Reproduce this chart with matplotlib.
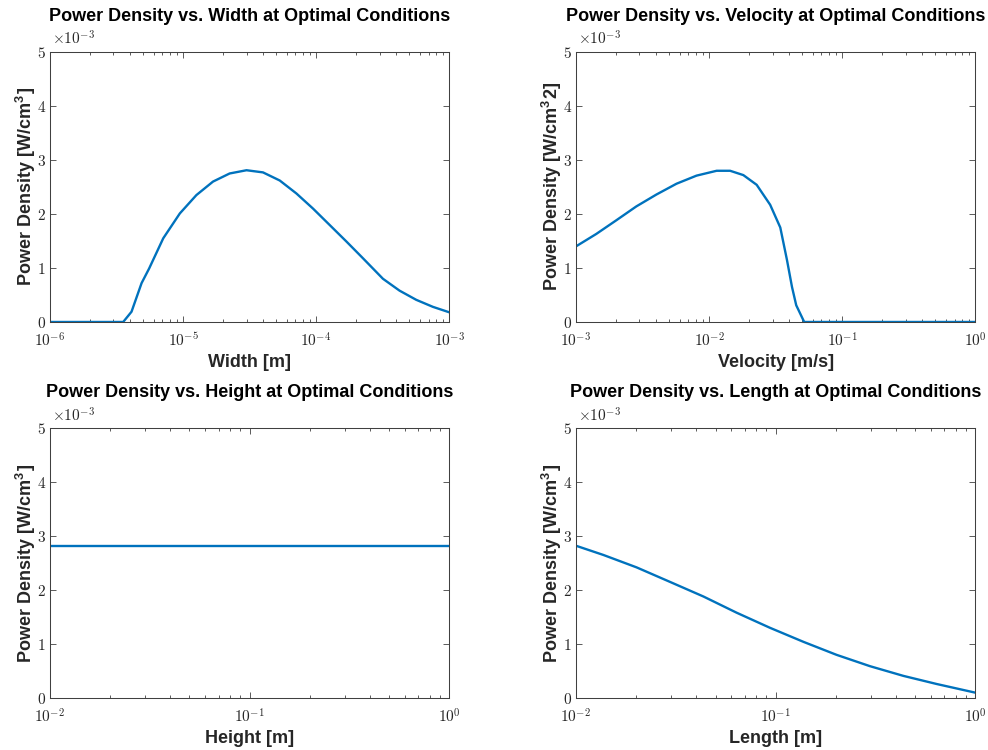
import math
import matplotlib
matplotlib.use("Agg")
import matplotlib.pyplot as plt
from matplotlib.ticker import FixedLocator, FuncFormatter, LogLocator, NullFormatter

plt.rcParams['font.family'] = ['Liberation Sans', 'DejaVu Sans']
plt.rcParams['mathtext.fontset'] = 'cm'

# power density values are in units of 1e-3 W/cm^3 (axis shows x10^-3)
width = [1.0e-6, 3.55e-6, 4.10e-6, 4.88e-6, 5.56e-6, 7.10e-6, 9.46e-6,
         1.26e-5, 1.68e-5, 2.24e-5, 3.00e-5, 3.99e-5, 5.33e-5, 7.11e-5,
         9.48e-5, 1.26e-4, 1.69e-4, 2.25e-4, 3.18e-4, 4.24e-4, 5.66e-4,
         7.55e-4, 1.0e-3]
pd_width = [0, 0, 0.19, 0.72, 0.99, 1.55, 2.01, 2.35, 2.60, 2.75, 2.81, 2.77,
            2.62, 2.38, 2.10, 1.80, 1.49, 1.18, 0.80, 0.58, 0.41, 0.28, 0.18]

velocity = [1.0e-3, 1.42e-3, 2.00e-3, 2.84e-3, 4.02e-3, 5.69e-3, 8.05e-3,
            1.14e-2, 1.44e-2, 1.81e-2, 2.28e-2, 2.88e-2, 3.43e-2, 3.85e-2,
            4.20e-2, 4.52e-2, 5.19e-2, 1.0]
pd_velocity = [1.40, 1.63, 1.88, 2.14, 2.36, 2.56, 2.71, 2.80, 2.80, 2.72,
               2.54, 2.17, 1.75, 1.15, 0.65, 0.31, 0, 0]

height = [1.0e-2, 1.0]
pd_height = [2.81, 2.81]

length = [1.0e-2, 1.37e-2, 2.01e-2, 2.96e-2, 4.35e-2, 6.38e-2, 9.38e-2,
          0.138, 0.202, 0.297, 0.437, 0.641, 1.0]
pd_length = [2.82, 2.65, 2.42, 2.15, 1.88, 1.58, 1.30, 1.04, 0.80, 0.59,
             0.41, 0.26, 0.10]

sup3 = r"Power Density [W/cm$^{\mathdefault{3}}$]"
panels = [
    (width, pd_width, "Width", "Width [m]", (1e-6, 1e-3), sup3),
    (velocity, pd_velocity, "Velocity", "Velocity [m/s]", (1e-3, 1),
     r"Power Density [W/cm$^{\mathdefault{3}}$2]"),
    (height, pd_height, "Height", "Height [m]", (1e-2, 1), sup3),
    (length, pd_length, "Length", "Length [m]", (1e-2, 1), sup3),
]

# axes rectangles in figure fraction
rects = [
    [0.0506, 0.5707, 0.404, 0.36],
    [0.583, 0.5707, 0.404, 0.36],
    [0.0506, 0.0693, 0.404, 0.36],
    [0.583, 0.0693, 0.404, 0.36],
]

edge = '#404040'
txt = '#262626'

fig = plt.figure(figsize=(9.88, 7.5), dpi=100)

for (x, y, name, xlab, xlim, ylab), r in zip(panels, rects):
    ax = fig.add_axes(r)
    ax.plot(x, y, color='#0072BD', lw=1.7)
    ax.set_xscale('log')
    ax.set_xlim(*xlim)
    ax.set_ylim(0, 5)
    ax.yaxis.set_major_locator(FixedLocator([0, 1, 2, 3, 4, 5]))
    ax.yaxis.set_major_formatter(FuncFormatter(lambda v, p: r'$%d$' % round(v)))
    ax.xaxis.set_major_locator(LogLocator(base=10, numticks=10))
    ax.xaxis.set_minor_locator(LogLocator(base=10, subs=range(2, 10), numticks=10))
    ax.xaxis.set_major_formatter(FuncFormatter(lambda v, p: r'$10^{%d}$' % round(math.log10(v))))
    ax.xaxis.set_minor_formatter(NullFormatter())
    ax.tick_params(which='both', direction='in', top=True, right=True,
                   color=edge, width=0.6, labelcolor=txt, labelsize=11)
    ax.tick_params(which='major', length=4)
    ax.tick_params(axis='x', which='major', pad=7)
    ax.tick_params(axis='y', which='major', pad=3)
    ax.tick_params(which='minor', length=2)
    for s in ax.spines.values():
        s.set_color(edge)
        s.set_linewidth(0.75)
    ax.text(0.004, 1.014, r'$\times10^{-3}$', transform=ax.transAxes,
            fontsize=11, color=txt, ha='left', va='bottom')
    ax.set_title("Power Density vs. %s at Optimal Conditions" % name,
                 fontsize=13, fontweight='bold', pad=22)
    ax.set_xlabel(xlab, fontsize=13, fontweight='bold', color=txt, labelpad=3)
    ax.set_ylabel(ylab, fontsize=13, fontweight='bold', color=txt, labelpad=-1)

fig.savefig('out.png', dpi=100)
